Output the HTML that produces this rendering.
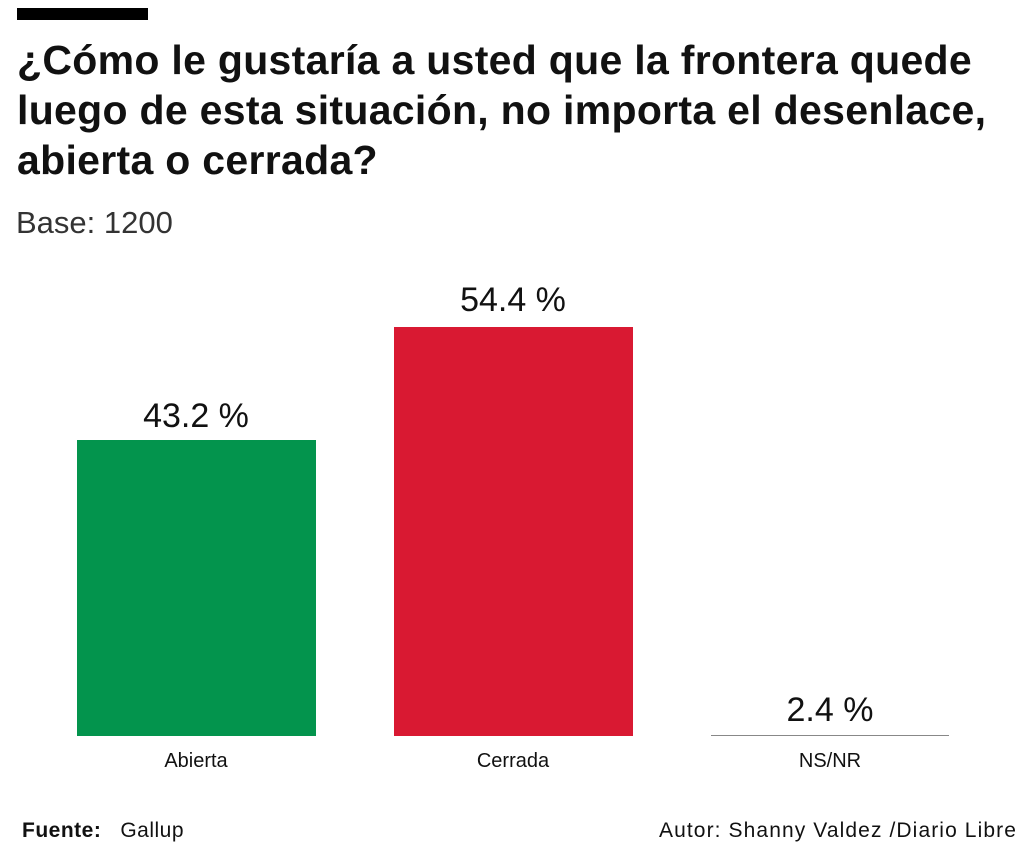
<!DOCTYPE html>
<html><head><meta charset="utf-8"><style>
body{margin:0;width:1024px;height:850px;background:#fff;position:relative;overflow:hidden;font-family:"Liberation Sans",sans-serif;color:#111}
div{position:absolute}
.t{left:17px;font-weight:bold;font-size:41px;letter-spacing:0.3px;white-space:nowrap;line-height:50px}
.v{font-size:34px;text-align:center;width:240px;line-height:40px}
.c{font-size:20px;text-align:center;width:240px;line-height:24px}
</style></head><body>
<div style="left:17px;top:8px;width:131px;height:12px;background:#000"></div>
<div class="t" style="top:35px">¿Cómo le gustaría a usted que la frontera quede</div>
<div class="t" style="top:85px">luego de esta situación, no importa el desenlace,</div>
<div class="t" style="top:135px">abierta o cerrada?</div>
<div style="left:16px;top:203px;font-size:31px;color:#333;line-height:40px">Base: 1200</div>

<div style="left:77px;top:440px;width:239px;height:296px;background:#03944d"></div>
<div style="left:394px;top:327px;width:239px;height:409px;background:#d91932"></div>
<div style="left:711px;top:735px;width:238px;height:1px;background:#888"></div>

<div class="v" style="left:76px;top:396px">43.2 %</div>
<div class="v" style="left:393px;top:280px">54.4 %</div>
<div class="v" style="left:710px;top:690px">2.4 %</div>

<div class="c" style="left:76px;top:749px">Abierta</div>
<div class="c" style="left:393px;top:749px">Cerrada</div>
<div class="c" style="left:710px;top:749px">NS/NR</div>

<div style="left:22px;top:819px;font-size:21px;line-height:24px;letter-spacing:0.5px"><b>Fuente:</b>&nbsp;&nbsp; Gallup</div>
<div style="right:7px;top:819px;font-size:21px;line-height:24px;letter-spacing:1.1px">Autor: Shanny Valdez /Diario Libre</div>
</body></html>
